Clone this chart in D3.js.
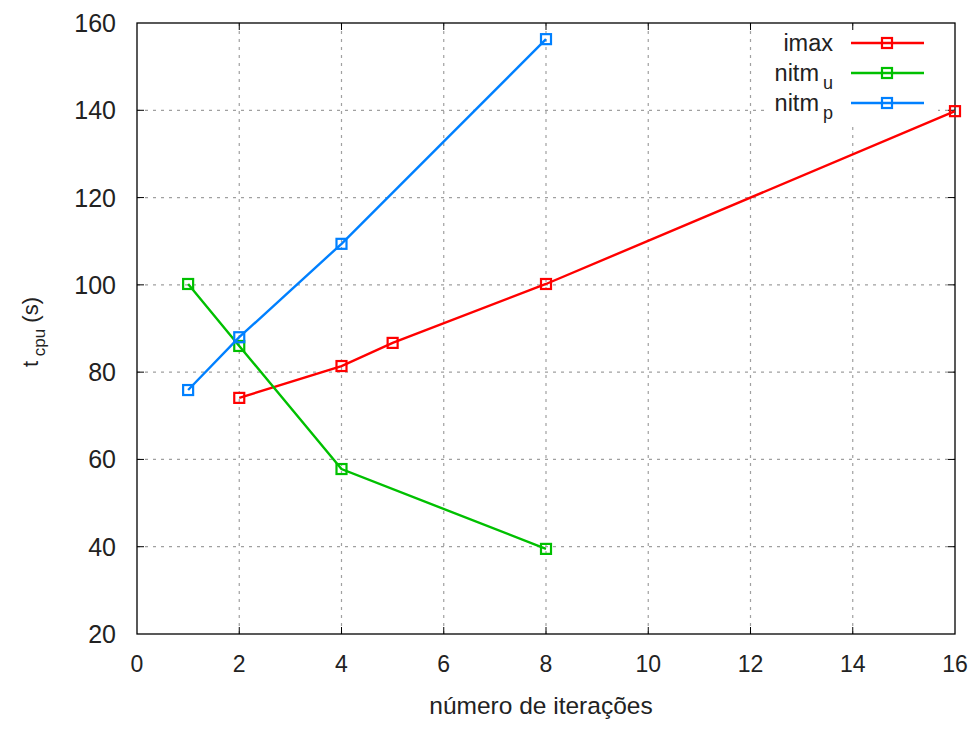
<!DOCTYPE html>
<html><head><meta charset="utf-8">
<script src="https://cdn.jsdelivr.net/npm/d3@7"></script>
<style>body{margin:0;background:#fff}text{font-family:"Liberation Sans",Arial,sans-serif;fill:#222}</style>
</head><body><svg id="c" width="974" height="729"></svg>
<script>
const xTicks=[0,2,4,6,8,10,12,14,16];
const yTicks=[20,40,60,80,100,120,140,160];
const imaxX=[2,4,5,8,16];
const imaxY=[74.1,81.4,86.7,100.2,139.8];
const nitmuX=[1,2,4,8];
const nitmuY=[100.2,86.0,57.8,39.5];
const nitmpX=[1,2,4,8];
const nitmpY=[75.9,88.0,109.4,156.3];
const seriesNames=["imax","nitm","nitm"];
const seriesSubs=["","u","p"];
const colors=["#ff0000","#00c000","#0080ff"];

const L=137,R=955,T=23,B=634;
const svg=d3.select("#c");
const x=d3.scaleLinear().domain([0,16]).range([L,R]);
const y=d3.scaleLinear().domain([20,160]).range([B,T]);

// grid
const g=svg.append("g");
g.selectAll(".gx").data(xTicks.slice(1,-1)).join("line").attr("x1",d=>x(d)).attr("x2",d=>x(d)).attr("y1",T).attr("y2",B)
 .attr("stroke","#a0a0a0").attr("stroke-width",1.2).attr("stroke-dasharray","3,5");
g.selectAll(".gy").data(yTicks.slice(1,-1)).join("line").attr("y1",d=>y(d)).attr("y2",d=>y(d)).attr("x1",L).attr("x2",R)
 .attr("stroke","#a0a0a0").attr("stroke-width",1.2).attr("stroke-dasharray","3,5");

// legend background
svg.append("rect").attr("x",768).attr("y",28).attr("width",170).attr("height",98).attr("fill","#fff");

// frame
svg.append("rect").attr("x",L).attr("y",T).attr("width",R-L).attr("height",B-T).attr("fill","none").attr("stroke","#000").attr("stroke-width",1.3);
// ticks
const tk=svg.append("g").attr("stroke","#000").attr("stroke-width",1);
xTicks.slice(1,-1).forEach(d=>{tk.append("line").attr("x1",x(d)).attr("x2",x(d)).attr("y1",B).attr("y2",B-7);
 tk.append("line").attr("x1",x(d)).attr("x2",x(d)).attr("y1",T).attr("y2",T+7);});
yTicks.slice(1,-1).forEach(d=>{tk.append("line").attr("y1",y(d)).attr("y2",y(d)).attr("x1",L).attr("x2",L+7);
 tk.append("line").attr("y1",y(d)).attr("y2",y(d)).attr("x1",R).attr("x2",R-7);});

// tick labels
svg.selectAll(".yl").data(yTicks).join("text").attr("x",116).attr("y",d=>y(d)+9)
 .attr("text-anchor","end").attr("font-size",25).text(d=>d);
svg.selectAll(".xl").data(xTicks).join("text").attr("x",d=>x(d)).attr("y",672)
 .attr("text-anchor","middle").attr("font-size",23).text(d=>d);
svg.append("text").attr("x",541).attr("y",714).attr("text-anchor","middle").attr("font-size",24.5).text("número de iterações");
const yt=svg.append("text").attr("transform","translate(38,332) rotate(-90)").attr("text-anchor","middle").attr("font-size",22);
yt.append("tspan").text("t");
yt.append("tspan").attr("dy",7).attr("font-size",17).text(" cpu");
yt.append("tspan").attr("dy",-7).text(" (s)");

// series
const data=[[imaxX,imaxY],[nitmuX,nitmuY],[nitmpX,nitmpY]];
const line=d3.line().x(d=>x(d[0])).y(d=>y(d[1]));
data.forEach((s,i)=>{
 const pts=s[0].map((v,j)=>[v,s[1][j]]);
 svg.append("path").attr("d",line(pts)).attr("fill","none").attr("stroke",colors[i]).attr("stroke-width",2.4);
 svg.selectAll(null).data(pts).join("rect").attr("x",d=>x(d[0])-5).attr("y",d=>y(d[1])-5).attr("width",10).attr("height",10)
  .attr("fill","none").attr("stroke",colors[i]).attr("stroke-width",2.2);
});

// legend
const ly=[43,73,103];
seriesNames.forEach((n,i)=>{
 const t=svg.append("text").attr("x",833).attr("y",ly[i]+8).attr("text-anchor","end").attr("font-size",23.5);
 t.append("tspan").text(n);
 if(seriesSubs[i]){t.append("tspan").attr("dx",4).attr("dy",8).attr("font-size",18).text(seriesSubs[i]);}
 svg.append("line").attr("x1",851).attr("x2",924).attr("y1",ly[i]).attr("y2",ly[i]).attr("stroke",colors[i]).attr("stroke-width",2.4);
 svg.append("rect").attr("x",882).attr("y",ly[i]-5).attr("width",10).attr("height",10).attr("fill","none").attr("stroke",colors[i]).attr("stroke-width",2.2);
});
</script></body></html>
